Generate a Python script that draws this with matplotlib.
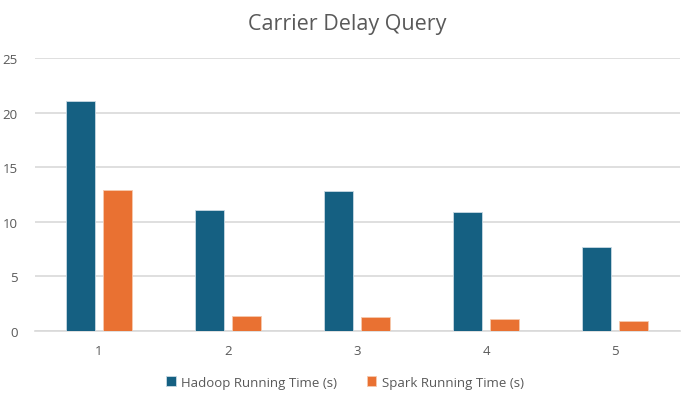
import numpy as np
import matplotlib
matplotlib.use('Agg')
import matplotlib.pyplot as plt

queries = ['1', '2', '3', '4', '5']
hadoop = [21.1, 11.1, 12.8, 10.9, 7.7]
spark = [12.9, 1.4, 1.3, 1.1, 0.95]

plt.rcParams['font.family'] = ['Open Sans', 'DejaVu Sans']
txt = '#595959'
grid = '#d9d9d9'

fig = plt.figure(figsize=(6.9, 4.02), dpi=100)
ax = fig.add_axes([0.05, 0.174, 0.935, 0.679])

x = np.arange(len(queries))
w = 0.225
ax.bar(x - 0.142, hadoop, w, color='#156082', edgecolor='#c9d9e3', linewidth=0.6,
       label='Hadoop Running Time (s)', zorder=3)
ax.bar(x + 0.142, spark, w, color='#e97132', edgecolor='#f6c9ae', linewidth=0.6,
       label='Spark Running Time (s)', zorder=3)

ax.set_xlim(-0.5, len(queries) - 0.5)
ax.set_ylim(0, 25)
ax.set_yticks(range(0, 26, 5))
ax.set_xticks(x)
ax.set_xticklabels(queries)
ax.yaxis.grid(True, color=grid, linewidth=1.2, zorder=0)
for s in ['top', 'right', 'left']:
    ax.spines[s].set_visible(False)
ax.spines['bottom'].set_color(grid)
ax.spines['bottom'].set_linewidth(1.2)
ax.tick_params(axis='both', length=0, labelsize=9.5, labelcolor=txt)
ax.tick_params(axis='y', pad=12)
ax.tick_params(axis='x', pad=9)

fig.text(0.503, 0.94, 'Carrier Delay Query', ha='center', va='center',
         fontsize=15.5, color=txt)

fig.legend(loc='center', bbox_to_anchor=(0.5, 0.047), ncol=2, frameon=False,
           fontsize=9.5, labelcolor=txt, handlelength=0.7, handleheight=0.7,
           handletextpad=0.45, columnspacing=2.2)

fig.savefig('out.png', dpi=100)
